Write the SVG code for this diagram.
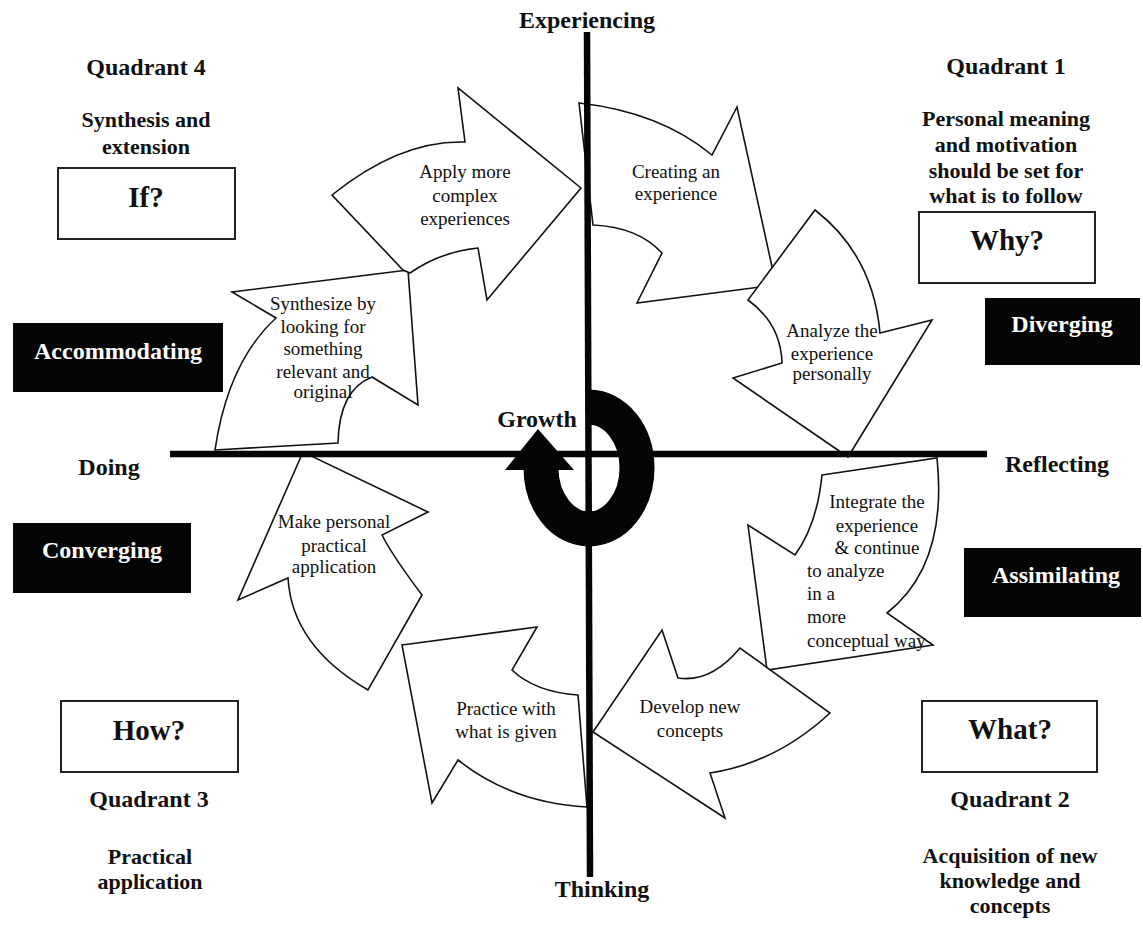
<svg xmlns="http://www.w3.org/2000/svg" width="1143" height="930" viewBox="0 0 1143 930">
  <style>
    .bold { font-family: "Liberation Serif", "Times New Roman", serif; font-weight: bold; fill: #111; text-anchor: middle; }
    .title { font-size: 24px; }
    .desc { font-size: 22px; }
    .ask { font-size: 29px; }
    .style { font-size: 24px; fill: #fff; }
    .step { font-family: "Liberation Serif", "Times New Roman", serif; font-size: 19px; fill: #111; text-anchor: middle; }
    .left { text-anchor: start; }
    .arrow { fill: #fff; stroke: #111; stroke-width: 1.6; stroke-linejoin: miter; }
    .qbox { fill: #fff; stroke: #222; stroke-width: 2; }
    .sbox { fill: #050505; stroke: none; }
    .axis { stroke: #050505; stroke-width: 6.5; fill: none; }
  </style>

  <!-- cycle of curved block arrows, drawn so each arrow covers the tip of the one before -->
  <g id="connectors">
    <g id="step-synthesize">
      <path class="arrow" d="M 408 270 L 232 292 L 276 318 Q 228 362 215 450 L 338 443 Q 339 390 372 377 L 418 405 Z"/>
      <text class="step" x="323" y="310">Synthesize by</text>
      <text class="step" x="323" y="333">looking for</text>
      <text class="step" x="323" y="355">something</text>
      <text class="step" x="323" y="378">relevant and</text>
      <text class="step" x="323" y="398">original</text>
    </g>
    <g id="step-apply">
      <path class="arrow" d="M 581 188 L 458 88 L 465 142 Q 400 140 332 195 L 403 270 L 410 273 Q 440 252 478 248 L 487 300 Z"/>
      <text class="step" x="465" y="178">Apply more</text>
      <text class="step" x="465" y="202">complex</text>
      <text class="step" x="465" y="225">experiences</text>
    </g>
    <g id="step-creating">
      <path class="arrow" d="M 579 103 Q 660 112 712 155 L 737 107 L 776 285 L 637 303 L 662 253 Q 638 227 593 225 Z"/>
      <text class="step" x="676" y="178">Creating an</text>
      <text class="step" x="676" y="200">experience</text>
    </g>
    <g id="step-analyze">
      <path class="arrow" d="M 815 210 Q 873 255 880 333 L 932 320 L 848 457 L 733 378 L 782 363 Q 781 324 748 300 Z"/>
      <text class="step" x="832" y="337">Analyze the</text>
      <text class="step" x="832" y="360">experience</text>
      <text class="step" x="832" y="380">personally</text>
    </g>
    <g id="step-integrate">
      <path class="arrow" d="M 822 475 L 937 458 Q 948 565 887 613 L 933 645 L 767 670 L 748 525 L 795 555 Q 817 525 822 475 Z"/>
      <text class="step" x="877" y="508">Integrate the</text>
      <text class="step" x="877" y="532">experience</text>
      <text class="step" x="877" y="554">&amp; continue</text>
      <text class="step left" x="807" y="577">to analyze</text>
      <text class="step left" x="807" y="600">in a</text>
      <text class="step left" x="807" y="623">more</text>
      <text class="step left" x="807" y="647">conceptual way</text>
    </g>
    <g id="step-develop">
      <path class="arrow" d="M 593 732 L 662 630 L 678 678 Q 711 683 740 648 L 830 713 Q 776 763 710 773 L 725 818 Z"/>
      <text class="step" x="690" y="713">Develop new</text>
      <text class="step" x="690" y="737">concepts</text>
    </g>
    <g id="step-practice">
      <path class="arrow" d="M 402 645 L 537 627 L 512 670 Q 535 692 578 695 L 587 807 Q 512 803 458 760 L 432 803 Z"/>
      <text class="step" x="506" y="715">Practice with</text>
      <text class="step" x="506" y="738">what is given</text>
    </g>
    <g id="step-make">
      <path class="arrow" d="M 303 452 L 238 600 L 288 578 Q 292 646 368 690 L 422 595 Q 392 555 382 535 L 428 512 Z"/>
      <text class="step" x="334" y="528">Make personal</text>
      <text class="step" x="334" y="552">practical</text>
      <text class="step" x="334" y="573">application</text>
    </g>
  </g>

  <!-- axes -->
  <g id="axes">
    <line class="axis" x1="587" y1="32" x2="590" y2="877"/>
    <line class="axis" x1="170" y1="454" x2="987" y2="454"/>
    <text class="bold title" x="587" y="28">Experiencing</text>
    <text class="bold title" x="602" y="897">Thinking</text>
    <text class="bold title" x="109" y="475">Doing</text>
    <text class="bold title" x="1057" y="472">Reflecting</text>
  </g>

  <!-- growth spiral at the centre -->
  <g id="growth">
    <path d="M 589 407 A 48 61 0 1 1 541 468" fill="none" stroke="#050505" stroke-width="35"/>
    <polygon points="505,470 538,429 574,470" fill="#050505"/>
    <text class="bold title" x="537" y="427">Growth</text>
  </g>

  <!-- quadrant 4 -->
  <g id="quadrant-4">
    <text class="bold title" x="146" y="75">Quadrant 4</text>
    <text class="bold desc" x="146" y="127">Synthesis and</text>
    <text class="bold desc" x="146" y="154">extension</text>
  </g>
  <g id="box-if">
    <rect class="qbox" x="58" y="168" width="177" height="71"/>
    <text class="bold ask" x="146" y="207">If?</text>
  </g>
  <g id="box-accommodating">
    <rect class="sbox" x="13" y="323" width="210" height="69"/>
    <text class="bold style" x="118" y="359">Accommodating</text>
  </g>

  <!-- quadrant 1 -->
  <g id="quadrant-1">
    <text class="bold title" x="1006" y="74">Quadrant 1</text>
    <text class="bold desc" x="1006" y="126">Personal meaning</text>
    <text class="bold desc" x="1006" y="152">and motivation</text>
    <text class="bold desc" x="1006" y="178">should be set for</text>
    <text class="bold desc" x="1006" y="203">what is to follow</text>
  </g>
  <g id="box-why">
    <rect class="qbox" x="919" y="212" width="176" height="71"/>
    <text class="bold ask" x="1007" y="250">Why?</text>
  </g>
  <g id="box-diverging">
    <rect class="sbox" x="985" y="298" width="155" height="67"/>
    <text class="bold style" x="1062" y="332">Diverging</text>
  </g>

  <!-- quadrant 3 -->
  <g id="box-converging">
    <rect class="sbox" x="13" y="523" width="178" height="70"/>
    <text class="bold style" x="102" y="558">Converging</text>
  </g>
  <g id="box-how">
    <rect class="qbox" x="61" y="701" width="177" height="71"/>
    <text class="bold ask" x="149" y="740">How?</text>
  </g>
  <g id="quadrant-3">
    <text class="bold title" x="149" y="807">Quadrant 3</text>
    <text class="bold desc" x="150" y="864">Practical</text>
    <text class="bold desc" x="150" y="889">application</text>
  </g>

  <!-- quadrant 2 -->
  <g id="box-assimilating">
    <rect class="sbox" x="964" y="548" width="177" height="69"/>
    <text class="bold style" x="1056" y="583">Assimilating</text>
  </g>
  <g id="box-what">
    <rect class="qbox" x="922" y="701" width="175" height="71"/>
    <text class="bold ask" x="1010" y="739">What?</text>
  </g>
  <g id="quadrant-2">
    <text class="bold title" x="1010" y="807">Quadrant 2</text>
    <text class="bold desc" x="1010" y="863">Acquisition of new</text>
    <text class="bold desc" x="1010" y="888">knowledge and</text>
    <text class="bold desc" x="1010" y="913">concepts</text>
  </g>
</svg>
